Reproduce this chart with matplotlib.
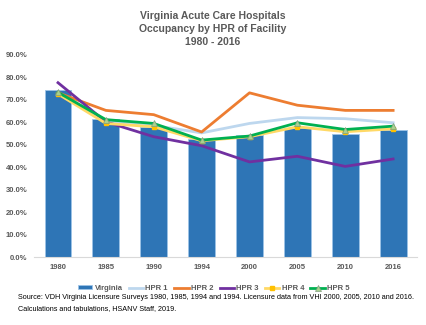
import matplotlib
matplotlib.use("Agg")
import matplotlib.pyplot as plt
from matplotlib.ticker import PercentFormatter, MultipleLocator

years = ["1980", "1985", "1990", "1994", "2000", "2005", "2010", "2016"]
virginia = [74.2, 61.2, 57.9, 52.3, 54.2, 57.5, 54.7, 56.3]
hpr1 = [73.0, 60.0, 58.5, 55.2, 59.4, 62.0, 61.5, 59.7]
hpr2 = [73.0, 65.2, 63.3, 55.6, 73.0, 67.5, 65.2, 65.2]
hpr3 = [77.5, 60.1, 53.5, 49.5, 42.3, 44.8, 40.3, 43.6]
hpr4 = [72.5, 59.4, 57.9, 51.7, 53.5, 57.9, 55.7, 57.0]
hpr5 = [73.2, 61.1, 59.4, 52.0, 53.8, 59.7, 56.7, 58.2]

plt.rcParams['font.family'] = ['Liberation Sans', 'DejaVu Sans']
gray = '#595959'

fig = plt.figure(figsize=(4.26, 3.25), dpi=100)
ax = fig.add_axes([0.08, 0.209, 0.899, 0.623])
x = list(range(len(years)))

hb = ax.bar(x, virginia, width=0.56, color='#2E75B6', edgecolor='#9DC3E6', linewidth=0.6, label='Virginia', zorder=2)
h1, = ax.plot(x, hpr1, color='#BDD7EE', lw=2.0, label='HPR 1', zorder=3)
h2, = ax.plot(x, hpr2, color='#ED7D31', lw=2.0, label='HPR 2', zorder=3)
h3, = ax.plot(x, hpr3, color='#7030A0', lw=2.0, label='HPR 3', zorder=3)
h4, = ax.plot(x, hpr4, color='#FFD966', lw=2.0, marker='s', markersize=3.5, markerfacecolor='#FFC000',
              markeredgecolor='#FFC000', label='HPR 4', zorder=4)
h5, = ax.plot(x, hpr5, color='#00B050', lw=2.0, marker='^', markersize=4, markerfacecolor='#A9D18E',
              markeredgecolor='#7F9F7F', markeredgewidth=0.5, label='HPR 5', zorder=5)

ax.set_ylim(0, 90)
ax.set_xlim(-0.5, len(years) - 0.5)
ax.yaxis.set_major_locator(MultipleLocator(10))
ax.yaxis.set_major_formatter(PercentFormatter(decimals=1))
ax.set_xticks(x)
ax.set_xticklabels(years)
for s in ['top', 'right', 'left']:
    ax.spines[s].set_visible(False)
ax.spines['bottom'].set_color('#D9D9D9')
ax.tick_params(axis='both', length=0, labelsize=5.5, colors=gray, pad=5)
for lab in ax.get_xticklabels() + ax.get_yticklabels():
    lab.set_fontweight('bold')

fig.text(0.5, 0.965, "Virginia Acute Care Hospitals\nOccupancy by HPR of Facility\n1980 - 2016",
         ha='center', va='top', fontsize=7.5, fontweight='bold', color=gray, linespacing=1.35)

leg = ax.legend([hb, h1, h2, h3, h4, h5], ['Virginia', 'HPR 1', 'HPR 2', 'HPR 3', 'HPR 4', 'HPR 5'],
                loc='center', bbox_to_anchor=(0.469, -0.155), ncol=6, frameon=False, fontsize=5.5,
                handlelength=1.9, handleheight=0.5, columnspacing=0.8, handletextpad=0.3, labelcolor=gray)
for t in leg.get_texts():
    t.set_fontweight('bold')

fig.text(0.042, 0.095, "Source: VDH Virginia Licensure Surveys 1980, 1985, 1994 and 1994. Licensure data from VHI 2000, 2005, 2010 and 2016.\nCalculations and tabulations, HSANV Staff, 2019.",
         ha='left', va='top', fontsize=5.2, color='black', linespacing=1.7)

fig.savefig('out.png', dpi=100)
